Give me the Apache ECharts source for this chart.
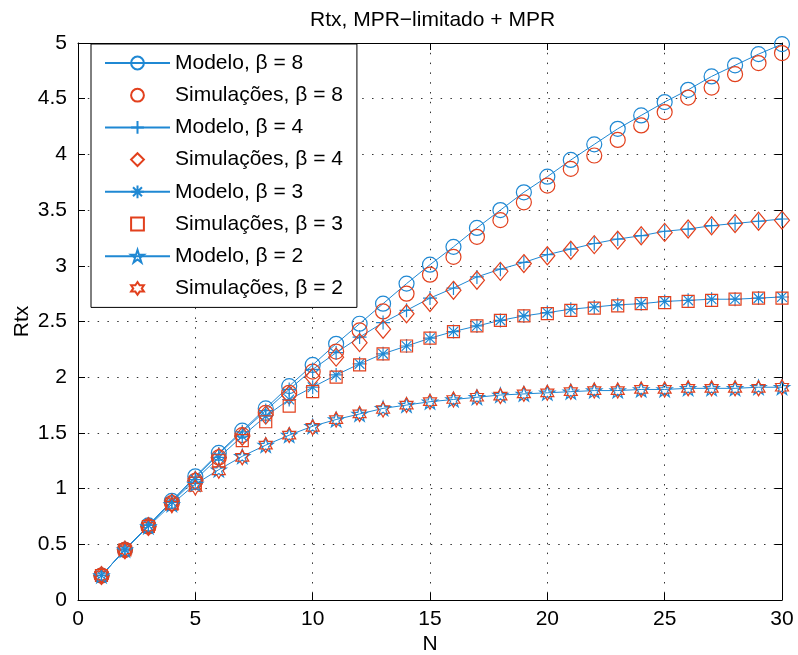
<!DOCTYPE html>
<html>
<head>
<meta charset="utf-8">
<script src="https://cdn.jsdelivr.net/npm/echarts@6/dist/echarts.min.js"></script>
<style>
  html, body { margin: 0; padding: 0; background: #fff; }
  #chart { width: 798px; height: 655px; }
</style>
</head>
<body>
<div id="chart"></div>
<script>
// Number of nodes N
const N = [1, 2, 3, 4, 5, 6, 7, 8, 9, 10, 11, 12, 13, 14, 15,
           16, 17, 18, 19, 20, 21, 22, 23, 24, 25, 26, 27, 28, 29, 30];

// Model curves and simulation results (Rtx) for each beta
const modelo8 = [0.22, 0.45, 0.67, 0.89, 1.11, 1.32, 1.52, 1.72, 1.92, 2.11, 2.30, 2.48, 2.66, 2.84, 3.01,
                 3.17, 3.34, 3.50, 3.66, 3.80, 3.95, 4.09, 4.23, 4.35, 4.47, 4.58, 4.70, 4.80, 4.90, 4.99];
const simul8  = [0.22, 0.45, 0.66, 0.87, 1.07, 1.28, 1.48, 1.68, 1.86, 2.05, 2.23, 2.42, 2.59, 2.75, 2.92,
                 3.08, 3.26, 3.41, 3.57, 3.72, 3.87, 3.99, 4.13, 4.26, 4.38, 4.51, 4.60, 4.72, 4.82, 4.91];
const modelo4 = [0.22, 0.45, 0.67, 0.89, 1.10, 1.31, 1.51, 1.70, 1.89, 2.07, 2.22, 2.36, 2.49, 2.60, 2.71,
                 2.80, 2.90, 2.97, 3.03, 3.10, 3.15, 3.20, 3.24, 3.27, 3.31, 3.33, 3.36, 3.38, 3.40, 3.42];
const simul4  = [0.22, 0.45, 0.66, 0.87, 1.07, 1.28, 1.47, 1.66, 1.84, 2.00, 2.18, 2.31, 2.43, 2.57, 2.67,
                 2.78, 2.87, 2.95, 3.02, 3.09, 3.14, 3.19, 3.23, 3.27, 3.30, 3.33, 3.36, 3.38, 3.40, 3.41];
const modelo3 = [0.22, 0.45, 0.67, 0.88, 1.08, 1.28, 1.47, 1.65, 1.80, 1.91, 2.02, 2.12, 2.21, 2.28, 2.35,
                 2.41, 2.46, 2.51, 2.55, 2.58, 2.61, 2.63, 2.65, 2.66, 2.68, 2.69, 2.70, 2.70, 2.71, 2.72];
const simul3  = [0.22, 0.45, 0.66, 0.86, 1.05, 1.25, 1.43, 1.60, 1.74, 1.87, 2.00, 2.11, 2.21, 2.28, 2.35,
                 2.41, 2.46, 2.51, 2.55, 2.57, 2.60, 2.62, 2.64, 2.66, 2.67, 2.68, 2.69, 2.70, 2.71, 2.71];
const modelo2 = [0.22, 0.45, 0.66, 0.86, 1.04, 1.17, 1.29, 1.39, 1.48, 1.56, 1.62, 1.67, 1.72, 1.75, 1.78,
                 1.80, 1.82, 1.84, 1.85, 1.86, 1.87, 1.88, 1.88, 1.89, 1.89, 1.90, 1.90, 1.90, 1.91, 1.91];
const simul2  = [0.22, 0.45, 0.66, 0.85, 1.01, 1.16, 1.28, 1.39, 1.48, 1.55, 1.62, 1.67, 1.71, 1.75, 1.78,
                 1.80, 1.82, 1.83, 1.85, 1.86, 1.87, 1.88, 1.88, 1.89, 1.89, 1.90, 1.90, 1.90, 1.90, 1.91];

// Series names
const seriesNames = [
  'Modelo, β = 8', 'Simulações, β = 8',
  'Modelo, β = 4', 'Simulações, β = 4',
  'Modelo, β = 3', 'Simulações, β = 3',
  'Modelo, β = 2', 'Simulações, β = 2'
];

// Tick labels
const xTickLabels = ['0', '5', '10', '15', '20', '25', '30'];
const yTickLabels = ['0', '0.5', '1', '1.5', '2', '2.5', '3', '3.5', '4', '4.5', '5'];

const BLUE = '#1f88d3';
const RED = '#e2401d';
const FONT = 'Liberation Sans, Arial, Helvetica, sans-serif';

// Marker shapes
const PLUS = 'path://M0,-1L0,1M-1,0L1,0';
const ASTERISK = 'path://M0,-1L0,1M-1,0L1,0M-0.7,-0.7L0.7,0.7M-0.7,0.7L0.7,-0.7';
const DIAMOND = 'path://M0,-1L1,0L0,1L-1,0Z';
const PENTAGRAM = 'path://M0,-1L0.2245,-0.309L0.951,-0.309L0.363,0.118L0.588,0.809L0,0.382L-0.588,0.809L-0.363,0.118L-0.951,-0.309L-0.2245,-0.309Z';
const HEXAGRAM = 'path://M0,-1L0.2887,-0.5L0.866,-0.5L0.577,0L0.866,0.5L0.2887,0.5L0,1L-0.2887,0.5L-0.866,0.5L-0.577,0L-0.866,-0.5L-0.2887,-0.5Z';

function pairs(ys) { return N.map((n, i) => [n, ys[i]]); }

function modelSeries(name, ys, symbol, size, keep) {
  return {
    name, type: 'line', data: pairs(ys),
    symbol, symbolSize: size, symbolKeepAspect: !!keep,
    showAllSymbol: true, animation: false,
    lineStyle: { color: BLUE, width: 1 },
    itemStyle: { color: 'rgba(0,0,0,0)', borderColor: BLUE, borderWidth: 1.2 },
    emphasis: { disabled: true }
  };
}
function simSeries(name, ys, symbol, size, keep) {
  return {
    name, type: 'line', data: pairs(ys),
    symbol, symbolSize: size, symbolKeepAspect: !!keep,
    showAllSymbol: true, animation: false,
    lineStyle: { color: RED, width: 0, opacity: 0 },
    itemStyle: { color: 'rgba(0,0,0,0)', borderColor: RED, borderWidth: 1.2 },
    emphasis: { disabled: true }
  };
}

const chart = echarts.init(document.getElementById('chart'), null, { renderer: 'canvas' });

const axisCommon = {
  min: 0,
  axisLine: { show: true, onZero: false, lineStyle: { color: '#000', width: 1 } },
  axisTick: { show: true, inside: true, length: 7, lineStyle: { color: '#000', width: 1 } }
};

chart.setOption({
  animation: false,
  backgroundColor: '#fff',
  title: {
    text: 'Rtx, MPR−limitado + MPR',
    left: 305, top: 5,
    textStyle: { fontFamily: FONT, fontSize: 21, fontWeight: 'normal', color: '#000' }
  },
  grid: { left: 78, right: 16, top: 43, bottom: 55, containLabel: false, outerBoundsMode: 'none' },
  legend: {
    orient: 'vertical',
    left: 91, top: 44,
    padding: [8, 14, 8, 13],
    itemWidth: 65, itemHeight: 16, itemGap: 10.2,
    backgroundColor: '#fff',
    borderColor: '#000', borderWidth: 1,
    selectedMode: false,
    textStyle: { fontFamily: FONT, fontSize: 21, lineHeight: 22, color: '#000' },
    data: seriesNames
  },
  xAxis: [
    Object.assign({}, axisCommon, {
      type: 'value', max: 30, interval: 5, position: 'bottom',
      name: 'N', nameLocation: 'middle', nameGap: 34, nameMoveOverlap: false,
      nameTextStyle: { fontFamily: FONT, fontSize: 21, color: '#000' },
      axisLabel: {
        margin: 9, fontFamily: FONT, fontSize: 21, color: '#000',
        formatter: v => xTickLabels[Math.round(v / 5)]
      },
      splitLine: { show: true, lineStyle: { color: '#333', width: 1, type: [1.5, 8.3] } }
    }),
    Object.assign({}, axisCommon, {
      type: 'value', max: 30, interval: 5, position: 'top',
      axisLabel: { show: false }, splitLine: { show: false }
    })
  ],
  yAxis: [
    Object.assign({}, axisCommon, {
      type: 'value', max: 5, interval: 0.5, position: 'left',
      name: 'Rtx', nameLocation: 'middle', nameGap: 45, nameRotate: 90, nameMoveOverlap: false,
      nameTextStyle: { fontFamily: FONT, fontSize: 21, color: '#000' },
      axisLabel: {
        margin: 11, fontFamily: FONT, fontSize: 21, color: '#000',
        formatter: v => yTickLabels[Math.round(v / 0.5)]
      },
      splitLine: { show: true, lineStyle: { color: '#333', width: 1, type: [1.5, 8.3] } }
    }),
    Object.assign({}, axisCommon, {
      type: 'value', max: 5, interval: 0.5, position: 'right',
      axisLabel: { show: false }, splitLine: { show: false }
    })
  ],
  series: [
    modelSeries(seriesNames[0], modelo8, 'circle', 15),
    simSeries(seriesNames[1], simul8, 'circle', 15),
    modelSeries(seriesNames[2], modelo4, PLUS, 14),
    simSeries(seriesNames[3], simul4, DIAMOND, [15, 18]),
    modelSeries(seriesNames[4], modelo3, ASTERISK, 14),
    simSeries(seriesNames[5], simul3, 'rect', 12),
    modelSeries(seriesNames[6], modelo2, PENTAGRAM, 15, true),
    simSeries(seriesNames[7], simul2, HEXAGRAM, 15, true)
  ]
});
</script>
</body>
</html>
